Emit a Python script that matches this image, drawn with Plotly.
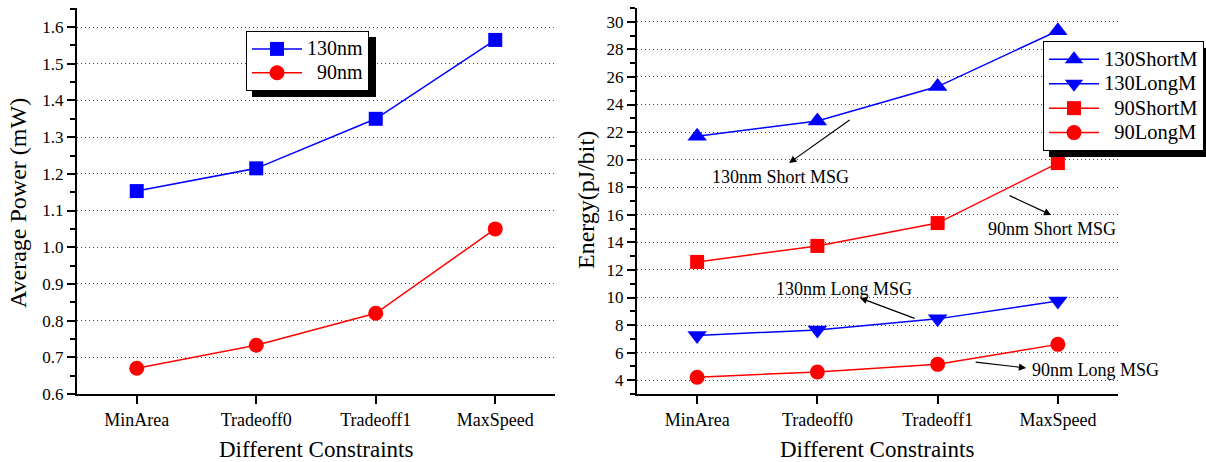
import plotly.graph_objects as go

categories = ["MinArea", "Tradeoff0", "Tradeoff1", "MaxSpeed"]

power_130nm = [1.153, 1.215, 1.350, 1.565]
power_90nm = [0.670, 0.733, 0.820, 1.050]

energy_130_short = [21.7, 22.8, 25.3, 29.35]
energy_130_long = [7.25, 7.65, 8.45, 9.75]
energy_90_short = [12.58, 13.74, 15.4, 19.75]
energy_90_long = [4.22, 4.6, 5.15, 6.6]

FONT = "Liberation Serif, Times New Roman, serif"
BLUE = "#0000FF"
RED = "#FF0000"
W, H = 1206, 462


def px(xp):
    return xp / W


def py(yp):
    return 1 - yp / H


def leg(txt, size=21):
    return f"<span style='font-size:{size}px'>{txt}</span>"


NB = "\u00a0"

fig = go.Figure()

# Left panel
fig.add_trace(go.Scatter(x=categories, y=power_130nm, mode="lines+markers",
                         name=leg("130nm", 20), legend="legend",
                         line=dict(color=BLUE, width=1.5),
                         marker=dict(symbol="square", size=14, color=BLUE),
                         xaxis="x", yaxis="y"))
fig.add_trace(go.Scatter(x=categories, y=power_90nm, mode="lines+markers",
                         name=leg(NB * 2 + "90nm", 20), legend="legend",
                         line=dict(color=RED, width=1.5),
                         marker=dict(symbol="circle", size=15, color=RED),
                         xaxis="x", yaxis="y"))

# Right panel
fig.add_trace(go.Scatter(x=categories, y=energy_130_short, mode="lines+markers",
                         name=leg("130ShortM", 20.5), legend="legend2",
                         line=dict(color=BLUE, width=1.5),
                         marker=dict(symbol="triangle-up", size=17, color=BLUE),
                         xaxis="x2", yaxis="y2"))
fig.add_trace(go.Scatter(x=categories, y=energy_130_long, mode="lines+markers",
                         name=leg("130LongM", 20.5), legend="legend2",
                         line=dict(color=BLUE, width=1.5),
                         marker=dict(symbol="triangle-down", size=17, color=BLUE),
                         xaxis="x2", yaxis="y2"))
fig.add_trace(go.Scatter(x=categories, y=energy_90_short, mode="lines+markers",
                         name=leg(NB * 2 + "90ShortM", 20.5), legend="legend2",
                         line=dict(color=RED, width=1.5),
                         marker=dict(symbol="square", size=14, color=RED),
                         xaxis="x2", yaxis="y2"))
fig.add_trace(go.Scatter(x=categories, y=energy_90_long, mode="lines+markers",
                         name=leg(NB * 2 + "90LongM", 20.5), legend="legend2",
                         line=dict(color=RED, width=1.5),
                         marker=dict(symbol="circle", size=15, color=RED),
                         xaxis="x2", yaxis="y2"))

y_domain = [py(394), py(8)]

xaxis_common = dict(
    range=[-0.5, 3.5], showline=True, linecolor="black", linewidth=2,
    ticks="outside", ticklen=8, tickwidth=1.5, tickcolor="black",
    showgrid=False, zeroline=False,
    tickfont=dict(family=FONT, size=18, color="black"),
)
yaxis_common = dict(
    showline=True, linecolor="black", linewidth=2,
    ticks="outside", ticklen=8, tickwidth=1.5, tickcolor="black",
    showgrid=True, gridcolor="#444444", gridwidth=1, griddash="1px,3px",
    zeroline=False,
    tickfont=dict(family=FONT, size=17, color="black"),
)

fig.update_layout(
    width=W, height=H,
    margin=dict(l=0, r=0, t=0, b=0, pad=0, autoexpand=False),
    paper_bgcolor="white", plot_bgcolor="white",
    font=dict(family=FONT, color="black"),
    xaxis=dict(domain=[px(77), px(555)], anchor="y", **xaxis_common),
    yaxis=dict(domain=y_domain, anchor="x", range=[0.6, 1.652],
               tick0=0.6, dtick=0.1, tickformat=".1f",
               minor=dict(ticks="outside", ticklen=5, tickwidth=1.5,
                          tickcolor="black", dtick=0.05, showgrid=False),
               **yaxis_common),
    xaxis2=dict(domain=[px(637), px(1118)], anchor="y2", **xaxis_common),
    yaxis2=dict(domain=y_domain, anchor="x2", range=[3, 31],
                tick0=0, dtick=2,
                minor=dict(ticks="outside", ticklen=5, tickwidth=1.5,
                           tickcolor="black", dtick=1, showgrid=False),
                **yaxis_common),
    legend=dict(x=px(246), y=py(31), xanchor="left", yanchor="top",
                bgcolor="white", bordercolor="black", borderwidth=1,
                font=dict(family=FONT, size=16, color="black"),
                itemwidth=50, tracegroupgap=0),
    legend2=dict(x=px(1043), y=py(41), xanchor="left", yanchor="top",
                 bgcolor="white", bordercolor="black", borderwidth=1,
                 font=dict(family=FONT, size=16.5, color="black"),
                 itemwidth=50, tracegroupgap=0),
    showlegend=True,
)

# legend shadows
fig.add_shape(type="rect", xref="paper", yref="paper",
              x0=px(252), x1=px(376), y0=py(97), y1=py(37),
              fillcolor="black", line=dict(width=0), layer="above")
fig.add_shape(type="rect", xref="paper", yref="paper",
              x0=px(1049), x1=px(1215), y0=py(157), y1=py(48),
              fillcolor="black", line=dict(width=0), layer="above")

# axis titles
ytitle_font = dict(family=FONT, size=24, color="black")
xtitle_font = dict(family=FONT, size=23, color="black")
fig.add_annotation(text="Average Power (mW)", xref="paper", yref="paper",
                   x=px(18), y=py(203), textangle=-90, showarrow=False,
                   font=ytitle_font, xanchor="center", yanchor="middle")
fig.add_annotation(text="Energy(pJ/bit)", xref="paper", yref="paper",
                   x=px(586), y=py(200), textangle=-90, showarrow=False,
                   font=ytitle_font, xanchor="center", yanchor="middle")
fig.add_annotation(text="Different Constraints", xref="paper", yref="paper",
                   x=px(316), y=py(449), showarrow=False,
                   font=xtitle_font, xanchor="center", yanchor="middle")
fig.add_annotation(text="Different Constraints", xref="paper", yref="paper",
                   x=px(877), y=py(449), showarrow=False,
                   font=xtitle_font, xanchor="center", yanchor="middle")

# callouts on right panel
note_font = dict(family=FONT, size=18, color="black")
notes = [
    ("130nm Short MSG", 0.69, 18.74),
    ("90nm Short MSG", 2.95, 14.97),
    ("130nm Long MSG", 1.22, 10.62),
    ("90nm Long MSG", 3.31, 4.75),
]
for txt, xv, yv in notes:
    fig.add_annotation(text=txt, xref="x2", yref="y2", x=xv, y=yv,
                       showarrow=False, font=note_font,
                       xanchor="center", yanchor="middle")

arrows = [
    # head x, head y, tail offset px (ax, ay)
    (0.765, 19.76, 62, -44),
    (2.944, 15.99, -43, -20),
    (1.355, 9.97, 56, 21),
    (2.736, 4.89, -52, -6),
]
for hx, hy, dx, dy in arrows:
    fig.add_annotation(text="", xref="x2", yref="y2", x=hx, y=hy,
                       ax=dx, ay=dy, showarrow=True, arrowhead=2,
                       arrowsize=1.2, arrowwidth=1.2, arrowcolor="black",
                       standoff=0, startstandoff=0)

fig.write_html("out.html")
